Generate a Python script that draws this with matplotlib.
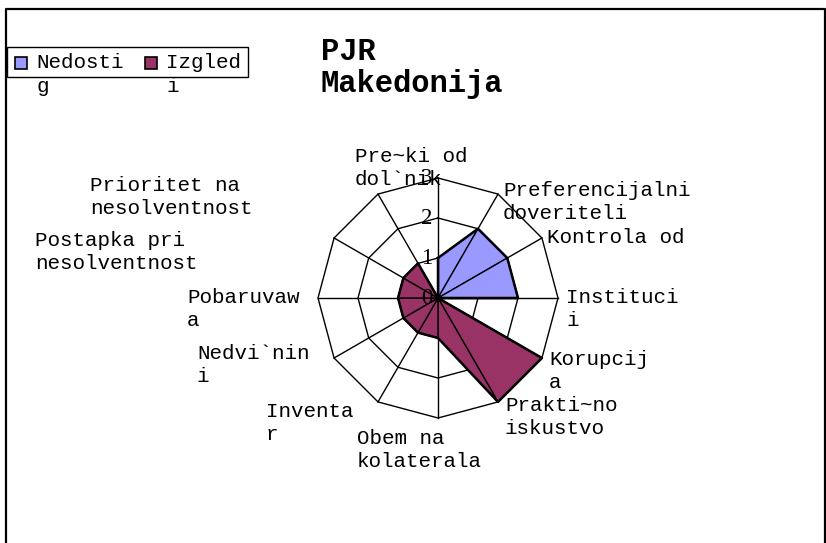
import numpy as np
import matplotlib
matplotlib.use("Agg")
import matplotlib.pyplot as plt
from matplotlib.patches import Polygon, Rectangle

# ---------------- data ----------------
categories = ["Pre~ki od\ndol`nik", "Preferencijalni\ndoveriteli", "Kontrola od",
              "Instituci\ni", "Korupcij\na", "Prakti~no\niskustvo",
              "Obem na\nkolaterala", "Inventa\nr", "Nedvi`nin\ni",
              "Pobaruvaw\na", "Postapka pri\nnesolventnost", "Prioritet na\nnesolventnost"]
series_names = ["Nedostig", "Izgled"]
nedostig = [1, 2, 2, 2, 0, 0, 0, 0, 0, 0, 0, 0]
izgled = [0, 0, 0, 0, 3, 3, 1, 1, 1, 1, 1, 1]
radial_ticks = [0, 1, 2, 3]
title = "PJR\nMakedonija"

# ---------------- style / layout ----------------
W, H = 826, 543
colors = ["#9999FF", "#993366"]
mono = "Liberation Mono"
serif = "Liberation Serif"
fs = 15

fig = plt.figure(figsize=(W / 100, H / 100), dpi=100)
bg = fig.add_axes([0, 0, 1, 1])
bg.set_xlim(0, W)
bg.set_ylim(H, 0)
bg.axis("off")

# chart border (bottom is cut off)
bg.plot([5.5, 5.5, 825, 825], [H, 8.5, 8.5, H], color="black", lw=1.6, solid_capstyle="butt")

# radar axes
cx, cy, R = 438, 298, 120
ax = fig.add_axes([(cx - R) / W, 1 - (cy + R) / H, 2 * R / W, 2 * R / H])
rmax = radial_ticks[-1]
ax.set_xlim(-rmax, rmax)
ax.set_ylim(-rmax, rmax)
ax.axis("off")

n = len(categories)
theta = np.arange(n) * 2 * np.pi / n
sx, sy = np.sin(theta), np.cos(theta)

# grid rings and spokes
for r in radial_ticks[1:]:
    xs = np.append(r * sx, r * sx[0])
    ys = np.append(r * sy, r * sy[0])
    ax.plot(xs, ys, color="black", lw=1.0, clip_on=False, zorder=1)
for i in range(n):
    ax.plot([0, rmax * sx[i]], [0, rmax * sy[i]], color="black", lw=1.0, clip_on=False, zorder=1)

# filled series (fan of triangles like the original)
for k, vals in enumerate([nedostig, izgled]):
    v = np.array(vals, dtype=float)
    px, py = v * sx, v * sy
    for i in range(n):
        j = (i + 1) % n
        if v[i] == 0 and v[j] == 0:
            continue
        tri = Polygon([[0, 0], [px[i], py[i]], [px[j], py[j]]], closed=True,
                      facecolor=colors[k], edgecolor="black", lw=1.0, zorder=2 + k,
                      clip_on=False)
        ax.add_patch(tri)
    ax.plot(np.append(px, px[0]), np.append(py, py[0]), color="black", lw=1.8,
            zorder=3 + k, clip_on=False)

ax.plot([0], [0], "o", color="black", ms=4, zorder=6, clip_on=False)

# radial tick labels
for r in radial_ticks:
    ax.annotate(str(r), xy=(0, r), xytext=(-4, 0), textcoords="offset points",
                ha="right", va="center", fontsize=16.5, family=serif, zorder=7,
                annotation_clip=False)

# category labels (positions as in the reference)
label_pos = [(355, 147), (503, 181), (547, 228), (566, 288), (549, 350), (505, 396),
             (357, 429), (266, 402), (197, 344), (187, 288), (35, 231), (90, 176)]
for lab, (x, y) in zip(categories, label_pos):
    bg.text(x, y, lab, ha="left", va="top", fontsize=fs, family=mono, linespacing=1.28,
            zorder=8)

# title
bg.text(321, 37, title, ha="left", va="top", fontsize=22, family=mono, weight="bold",
        linespacing=1.1)

# legend (text wraps out of the box as in the reference)
bg.add_patch(Rectangle((7, 47), 241, 30, facecolor="white", edgecolor="black", lw=1.0, zorder=9))
leg_items = [(15, "Nedosti\ng"), (145, "Izgled\ni")]
for (x, txt), c in zip(leg_items, colors):
    bg.add_patch(Rectangle((x, 57), 12, 12, facecolor=c, edgecolor="black", lw=1.2, zorder=10))
    bg.text(x + 21, 53, txt, ha="left", va="top", fontsize=fs, family=mono,
            linespacing=1.35, zorder=10)

fig.savefig("out.png", dpi=100)
